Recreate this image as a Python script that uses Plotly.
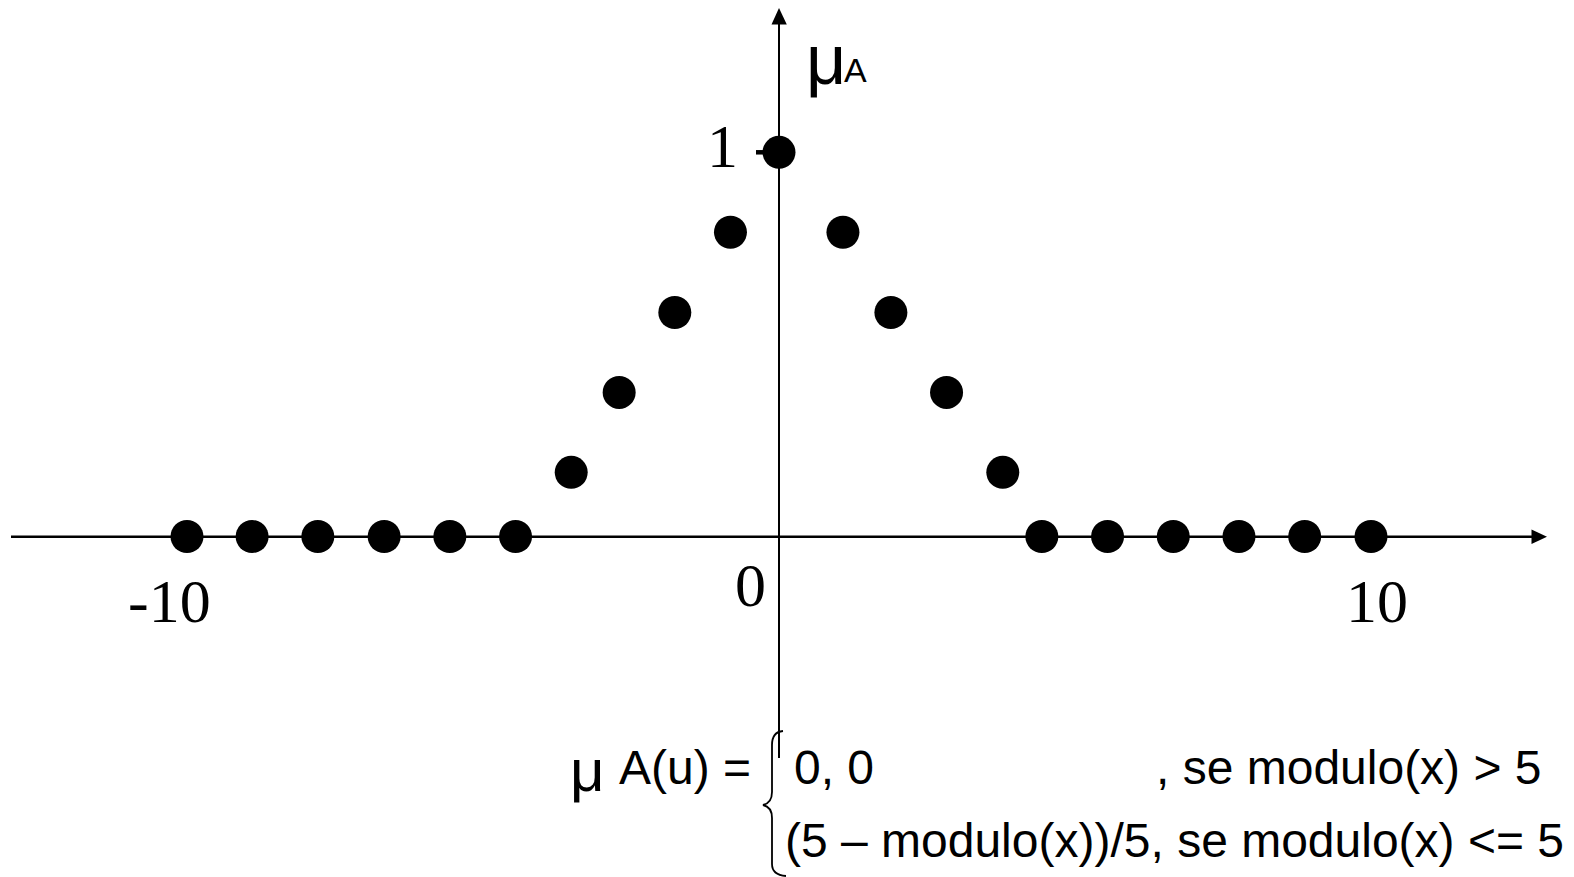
import plotly.graph_objects as go

# ---- data ----
x_vals = [-10.0, -8.9, -7.79, -6.67, -5.56, -4.45, -3.51, -2.70, -1.76, -0.82, 0.0,
          1.08, 1.89, 2.83, 3.78, 4.44, 5.55, 6.66, 7.77, 8.88, 10.0]
mu_vals = [0, 0, 0, 0, 0, 0, 0.167, 0.375, 0.583, 0.792, 1.0,
           0.792, 0.583, 0.375, 0.167, 0, 0, 0, 0, 0, 0]
x_tick_vals = [-10, 0, 10]
x_tick_text = ["-10", "0", "10"]
y_tick_vals = [1]
y_tick_text = ["1"]

W, H = 1574, 877
PXU_X = 59.2      # pixels per x unit
PXU_Y = 384.2     # pixels per y unit
X0_PX, Y0_PX = 779, 536.5

x_range = [-X0_PX / PXU_X, (W - X0_PX) / PXU_X]
y_range = [-(H - Y0_PX) / PXU_Y, Y0_PX / PXU_Y]


def px(xp):
    return xp / W


def py(yp):
    return 1 - yp / H


fig = go.Figure()
fig.add_trace(go.Scatter(
    x=x_vals, y=mu_vals, mode="markers",
    marker=dict(size=33, color="black", line=dict(width=0)),
    hoverinfo="x+y", showlegend=False, cliponaxis=False,
))

shapes = []
# x axis line + arrow
shapes.append(dict(type="line", xref="paper", yref="paper",
                   x0=px(11), x1=px(1533), y0=py(536.7), y1=py(536.7),
                   line=dict(color="black", width=2.5)))
shapes.append(dict(type="path", xref="paper", yref="paper",
                   path=f"M {px(1531.5)} {py(529.5)} L {px(1547)} {py(536.7)} L {px(1531.5)} {py(543.9)} Z",
                   fillcolor="black", line=dict(color="black", width=0)))
# y axis line + arrow
shapes.append(dict(type="line", xref="paper", yref="paper",
                   x0=px(779), x1=px(779), y0=py(22), y1=py(758),
                   line=dict(color="black", width=2)))
shapes.append(dict(type="path", xref="paper", yref="paper",
                   path=f"M {px(771.5)} {py(24.5)} L {px(779)} {py(8)} L {px(786.8)} {py(24.5)} Z",
                   fillcolor="black", line=dict(color="black", width=0)))
# small tick at y=1
shapes.append(dict(type="line", xref="paper", yref="paper",
                   x0=px(756), x1=px(775), y0=py(152.3), y1=py(152.3),
                   line=dict(color="black", width=4.5)))
# curly brace of the formula
brace = (f"M {px(783)} {py(731)} Q {px(772)} {py(732)} {px(772)} {py(745)} "
         f"L {px(772)} {py(792)} Q {px(772)} {py(803)} {px(763)} {py(805)} "
         f"Q {px(772)} {py(807)} {px(772)} {py(818)} "
         f"L {px(772)} {py(864)} Q {px(772)} {py(875)} {px(786)} {py(876)}")
shapes.append(dict(type="path", xref="paper", yref="paper", path=brace,
                   line=dict(color="black", width=1.8)))

serif = "Liberation Serif, Times New Roman, serif"
sans = "Liberation Sans, Arial, sans-serif"

annotations = []
x_shifts = [-18, -29, 6]
y_pos = [601, 585, 601]
for v, t, xs, yp in zip(x_tick_vals, x_tick_text, x_shifts, y_pos):
    annotations.append(dict(x=v, y=(Y0_PX - yp) / PXU_Y, xref="x", yref="y", text=t,
                            showarrow=False, xshift=xs, xanchor="center", yanchor="middle",
                            font=dict(family=serif, size=62, color="black")))
for v, t in zip(y_tick_vals, y_tick_text):
    annotations.append(dict(x=0, y=v, xref="x", yref="y", text=t, showarrow=False,
                            xshift=-57, yshift=6, xanchor="center", yanchor="middle",
                            font=dict(family=serif, size=62, color="black")))

# axis label mu_A
annotations.append(dict(x=px(804), y=py(60), xref="paper", yref="paper",
                        text="μ", showarrow=False, xanchor="left", yanchor="middle",
                        font=dict(family=sans, size=70, color="black")))
annotations.append(dict(x=px(842), y=py(70), xref="paper", yref="paper",
                        text="A", showarrow=False, xanchor="left", yanchor="middle",
                        font=dict(family=sans, size=34, color="black")))

# formula
annotations.append(dict(x=px(568), y=py(770), xref="paper", yref="paper",
                        text="μ", showarrow=False, xanchor="left", yanchor="middle",
                        font=dict(family=sans, size=60, color="black")))
annotations.append(dict(x=px(617), y=py(767), xref="paper", yref="paper",
                        text="A(u) =", showarrow=False, xanchor="left", yanchor="middle",
                        font=dict(family=sans, size=48, color="black")))
annotations.append(dict(x=px(792), y=py(767), xref="paper", yref="paper",
                        text="0, 0", showarrow=False, xanchor="left", yanchor="middle",
                        font=dict(family=sans, size=48, color="black")))
annotations.append(dict(x=px(1154), y=py(767), xref="paper", yref="paper",
                        text=", se modulo(x) > 5", showarrow=False, xanchor="left", yanchor="middle",
                        font=dict(family=sans, size=48, color="black")))
annotations.append(dict(x=px(783), y=py(840), xref="paper", yref="paper",
                        text="(5 – modulo(x))/5, se modulo(x) <= 5", showarrow=False,
                        xanchor="left", yanchor="middle",
                        font=dict(family=sans, size=48, color="black")))

fig.update_layout(
    width=W, height=H,
    margin=dict(l=0, r=0, t=0, b=0),
    paper_bgcolor="white", plot_bgcolor="white",
    xaxis=dict(range=x_range, visible=False, fixedrange=True),
    yaxis=dict(range=y_range, visible=False, fixedrange=True),
    shapes=shapes, annotations=annotations,
    showlegend=False,
)

fig.write_html("out.html",
               post_script="document.body.style.margin='0';document.body.style.overflow='hidden';",
               config={"displayModeBar": False})
